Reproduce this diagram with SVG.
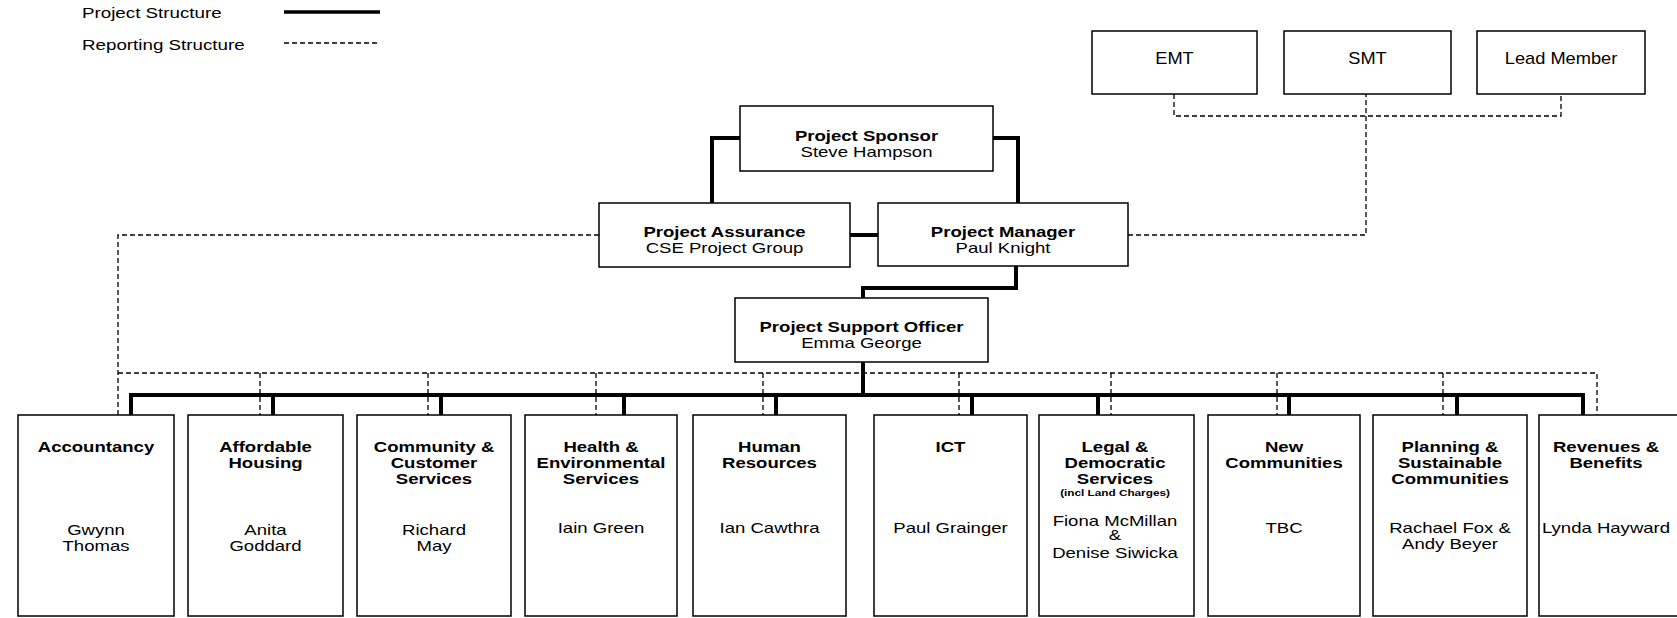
<svg xmlns="http://www.w3.org/2000/svg" width="1677" height="618" viewBox="0 0 1677 618">
<style>
text{font-family:"Liberation Sans",Arial,sans-serif;fill:#000;text-anchor:middle}
.t{font-size:14.5px}
.b{font-weight:bold}
.s{font-size:9.2px;font-weight:bold}
.top{font-size:16px}
.lg{font-size:14px;text-anchor:start}
.box{fill:#fff;stroke:#000;stroke-width:1.5}
.thick{fill:none;stroke:#000;stroke-width:4;stroke-linejoin:miter}
.dash{fill:none;stroke:#000;stroke-width:1.3;stroke-dasharray:5,3}
</style>
<rect x="0" y="0" width="1677" height="618" fill="#fff"/>
<g id="legend">
<g transform="translate(82,0) scale(1.34,1)"><text class="lg" x="0" y="18">Project Structure</text><text class="lg" x="0" y="50">Reporting Structure</text></g>
<path class="thick" d="M284,12 H380" style="stroke-width:3.5"/>
<path class="dash" d="M284,43 H380"/>
</g>
<g id="connectors">
<path class="thick" d="M740,138 H712 V203"/>
<path class="thick" d="M993,138 H1018 V203"/>
<path class="thick" d="M850,235 H878"/>
<path class="thick" d="M1016,266 V288 H863 V298"/>
<path class="thick" d="M863,362 V395"/>
<path class="thick" d="M131,415 V395 H1583 V415 M273,395 V415 M441,395 V415 M624,395 V415 M776,395 V415 M972,395 V415 M1098,395 V415 M1289,395 V415 M1457,395 V415"/>
<path class="dash" d="M599,235 H118 V415"/>
<path class="dash" d="M118,373 H1597 V415 M260,373 V415 M428,373 V415 M596,373 V415 M763,373 V415 M959,373 V415 M1111,373 V415 M1277,373 V415 M1443,373 V415"/>
<path class="dash" d="M1128,235 H1366 V94"/>
<path class="dash" d="M1174,94 V116 H1561 V94"/>
</g>
<g id="emt"><rect class="box" x="1092" y="31" width="165" height="63"/><g transform="translate(1174.5,0) scale(1.14,1)"><text class="top" x="0" y="64">EMT</text></g></g>
<g id="smt"><rect class="box" x="1284" y="31" width="167" height="63"/><g transform="translate(1367.5,0) scale(1.14,1)"><text class="top" x="0" y="64">SMT</text></g></g>
<g id="lead-member"><rect class="box" x="1477" y="31" width="168" height="63"/><g transform="translate(1561,0) scale(1.14,1)"><text class="top" x="0" y="64">Lead Member</text></g></g>
<g id="project-sponsor"><rect class="box" x="740" y="106" width="253" height="65"/><g transform="translate(866.5,0) scale(1.28,1)"><text class="t b" x="0" y="141">Project Sponsor</text><text class="t" x="0" y="157">Steve Hampson</text></g></g>
<g id="project-assurance"><rect class="box" x="599" y="203" width="251" height="64"/><g transform="translate(724.5,0) scale(1.28,1)"><text class="t b" x="0" y="237">Project Assurance</text><text class="t" x="0" y="253">CSE Project Group</text></g></g>
<g id="project-manager"><rect class="box" x="878" y="203" width="250" height="63"/><g transform="translate(1003,0) scale(1.28,1)"><text class="t b" x="0" y="237">Project Manager</text><text class="t" x="0" y="253">Paul Knight</text></g></g>
<g id="project-support-officer"><rect class="box" x="735" y="298" width="253" height="64"/><g transform="translate(861.5,0) scale(1.28,1)"><text class="t b" x="0" y="332">Project Support Officer</text><text class="t" x="0" y="348">Emma George</text></g></g>
<g id="accountancy"><rect class="box" x="18" y="415" width="156" height="201"/><g transform="translate(96,0) scale(1.28,1)"><text class="t b" x="0" y="452">Accountancy</text><text class="t" x="0" y="535">Gwynn</text><text class="t" x="0" y="551">Thomas</text></g></g>
<g id="affordable-housing"><rect class="box" x="188" y="415" width="155" height="201"/><g transform="translate(265.5,0) scale(1.28,1)"><text class="t b" x="0" y="452">Affordable</text><text class="t b" x="0" y="468">Housing</text><text class="t" x="0" y="535">Anita</text><text class="t" x="0" y="551">Goddard</text></g></g>
<g id="community-customer-services"><rect class="box" x="357" y="415" width="154" height="201"/><g transform="translate(434,0) scale(1.28,1)"><text class="t b" x="0" y="452">Community &amp;</text><text class="t b" x="0" y="468">Customer</text><text class="t b" x="0" y="484">Services</text><text class="t" x="0" y="535">Richard</text><text class="t" x="0" y="551">May</text></g></g>
<g id="health-environmental-services"><rect class="box" x="525" y="415" width="152" height="201"/><g transform="translate(601,0) scale(1.28,1)"><text class="t b" x="0" y="452">Health &amp;</text><text class="t b" x="0" y="468">Environmental</text><text class="t b" x="0" y="484">Services</text><text class="t" x="0" y="533">Iain Green</text></g></g>
<g id="human-resources"><rect class="box" x="693" y="415" width="153" height="201"/><g transform="translate(769.5,0) scale(1.28,1)"><text class="t b" x="0" y="452">Human</text><text class="t b" x="0" y="468">Resources</text><text class="t" x="0" y="533">Ian Cawthra</text></g></g>
<g id="ict"><rect class="box" x="874" y="415" width="153" height="201"/><g transform="translate(950.5,0) scale(1.28,1)"><text class="t b" x="0" y="452">ICT</text><text class="t" x="0" y="533">Paul Grainger</text></g></g>
<g id="legal-democratic-services"><rect class="box" x="1039" y="415" width="155" height="201"/><g transform="translate(1115,0) scale(1.28,1)"><text class="t b" x="0" y="452">Legal &amp;</text><text class="t b" x="0" y="468">Democratic</text><text class="t b" x="0" y="484">Services</text><text class="s" x="0" y="496">(incl Land Charges)</text><text class="t" x="0" y="526">Fiona McMillan</text><text class="t" x="0" y="540">&amp;</text><text class="t" x="0" y="558">Denise Siwicka</text></g></g>
<g id="new-communities"><rect class="box" x="1208" y="415" width="152" height="201"/><g transform="translate(1284,0) scale(1.28,1)"><text class="t b" x="0" y="452">New</text><text class="t b" x="0" y="468">Communities</text><text class="t" x="0" y="533">TBC</text></g></g>
<g id="planning-sustainable-communities"><rect class="box" x="1373" y="415" width="154" height="201"/><g transform="translate(1450,0) scale(1.28,1)"><text class="t b" x="0" y="452">Planning &amp;</text><text class="t b" x="0" y="468">Sustainable</text><text class="t b" x="0" y="484">Communities</text><text class="t" x="0" y="533">Rachael Fox &amp;</text><text class="t" x="0" y="549">Andy Beyer</text></g></g>
<g id="revenues-benefits"><rect class="box" x="1539" y="415" width="170" height="201"/><g transform="translate(1606,0) scale(1.28,1)"><text class="t b" x="0" y="452">Revenues &amp;</text><text class="t b" x="0" y="468">Benefits</text><text class="t" x="0" y="533">Lynda Hayward</text></g></g>
</svg>
